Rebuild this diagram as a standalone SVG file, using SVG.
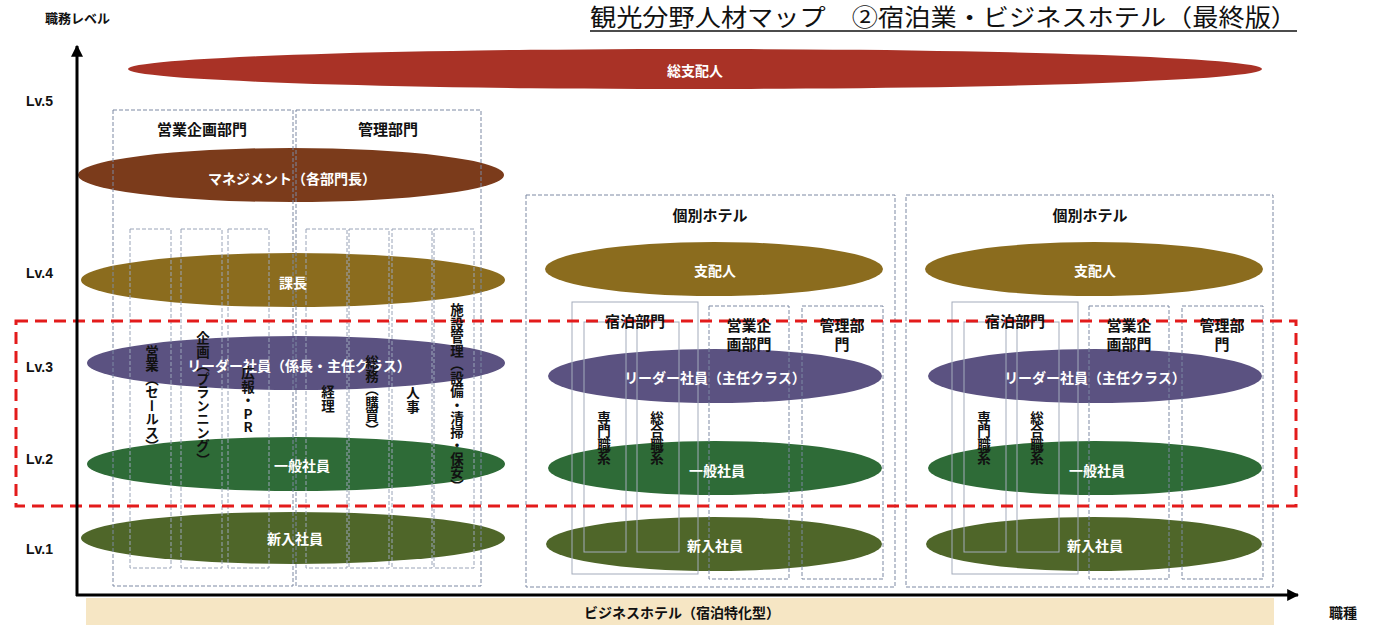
<svg xmlns="http://www.w3.org/2000/svg" width="1378" height="625" viewBox="0 0 1378 625">
<defs>
<style>
.jp{font-family:"Noto Sans CJK JP","Noto Sans CJK SC",sans-serif;font-weight:bold;}
.w{fill:#ffffff;font-size:14px;text-anchor:middle;dominant-baseline:central;}
.b{fill:#111111;text-anchor:middle;dominant-baseline:central;}
.h{font-size:15px;}
.v{fill:#111111;font-size:13.5px;writing-mode:vertical-rl;text-anchor:middle;dominant-baseline:central;}
.lv{font-family:"Liberation Sans",Arial,sans-serif;font-weight:bold;font-size:14px;fill:#111;dominant-baseline:central;}
.box{fill:none;stroke:#7d89a3;stroke-width:1;stroke-dasharray:4 2;}
.col{fill:none;stroke:#9aa4b8;stroke-width:1;stroke-dasharray:4 2;}
.sol{fill:none;stroke:#a3abbb;stroke-width:1;}
.gm{fill:#a93226;}
.mg{fill:#7b3b1b;}
.kc{fill:#8b6c1e;}
.ld{fill:#5b5281;}
.ip{fill:#2e6b37;}
.sn{fill:#4f6629;}
</style>
<marker id="ah" viewBox="0 0 10 10" refX="9" refY="5" markerWidth="4" markerHeight="4" orient="auto-start-reverse" markerUnits="strokeWidth">
<path d="M0,0 L10,5 L0,10 z" fill="#000"/>
</marker>
</defs>
<rect width="1378" height="625" fill="#ffffff"/>

<!-- title -->
<g id="title">
<text x="590" y="26" font-family="'Noto Sans CJK JP',sans-serif" font-size="24" fill="#111" textLength="707" lengthAdjust="spacingAndGlyphs">観光分野人材マップ　②宿泊業・ビジネスホテル（最終版）</text>
<line x1="590" y1="31" x2="1297" y2="31" stroke="#111" stroke-width="1.5"/>
</g>
<text class="jp" x="45" y="17" font-size="13" fill="#111" dominant-baseline="central">職務レベル</text>

<!-- band -->
<g id="band">
<rect x="86" y="598" width="1188" height="27" fill="#f6e6c4"/>
<text class="jp b" x="682" y="612" font-size="14">ビジネスホテル（宿泊特化型）</text>
</g>
<text class="jp b" x="1343" y="612" font-size="14">職種</text>

<!-- level labels -->
<g id="levels">
<text class="lv" x="26" y="101">Lv.5</text>
<text class="lv" x="26" y="273">Lv.4</text>
<text class="lv" x="26" y="367">Lv.3</text>
<text class="lv" x="26" y="459">Lv.2</text>
<text class="lv" x="26" y="549">Lv.1</text>
</g>

<!-- ellipses -->
<g id="gm-node"><ellipse class="gm" cx="695" cy="69" rx="567" ry="20"/><text class="jp w" x="695" y="70" font-size="15">総支配人</text></g>

<g id="left-ellipses">
<ellipse class="mg" cx="291" cy="175" rx="213" ry="27"/>
<ellipse class="kc" cx="293" cy="280" rx="212" ry="27"/>
<ellipse class="ld" cx="296" cy="363" rx="209" ry="27"/>
<ellipse class="ip" cx="296" cy="464" rx="209" ry="27"/>
<ellipse class="sn" cx="293" cy="538" rx="212" ry="26"/>
</g>
<g id="mid-ellipses">
<ellipse class="kc" cx="714" cy="269" rx="169" ry="27"/>
<ellipse class="ld" cx="715" cy="376" rx="167" ry="27"/>
<ellipse class="ip" cx="715" cy="468" rx="167" ry="27"/>
<ellipse class="sn" cx="714" cy="544" rx="168" ry="27"/>
</g>
<g id="right-ellipses">
<ellipse class="kc" cx="1094" cy="269" rx="169" ry="27"/>
<ellipse class="ld" cx="1095" cy="376" rx="167" ry="27"/>
<ellipse class="ip" cx="1095" cy="468" rx="167" ry="27"/>
<ellipse class="sn" cx="1094" cy="544" rx="168" ry="27"/>
</g>

<!-- left boxes -->
<g id="sales-dept">
<rect class="box" x="113" y="110" width="180" height="476"/>
<rect class="col" x="130" y="229" width="41" height="339"/>
<rect class="col" x="181" y="229" width="41" height="339"/>
<rect class="col" x="228" y="229" width="41" height="339"/>
<text class="jp b h" x="202" y="128">営業企画部門</text>
</g>
<g id="admin-dept">
<rect class="box" x="296" y="110" width="185" height="476"/>
<rect class="col" x="306" y="229" width="41" height="339"/>
<rect class="col" x="349" y="229" width="40" height="339"/>
<rect class="col" x="392" y="229" width="40" height="339"/>
<rect class="col" x="434" y="229" width="40" height="339"/>
<text class="jp b h" x="388" y="128">管理部門</text>
</g>

<!-- hotel 1 -->
<g id="hotel1">
<rect class="box" x="526" y="195" width="369" height="392"/>
<text class="jp b h" x="710" y="214">個別ホテル</text>
<rect class="sol" x="572" y="302" width="126" height="272"/>
<rect class="sol" x="584" y="322" width="42" height="230"/>
<rect class="sol" x="637" y="322" width="42" height="230"/>
<rect class="box" x="709" y="306" width="80" height="273"/>
<rect class="box" x="802" y="306" width="81" height="273"/>
</g>
<!-- hotel 2 -->
<g id="hotel2">
<rect class="box" x="906" y="195" width="367" height="392"/>
<text class="jp b h" x="1090" y="214">個別ホテル</text>
<rect class="sol" x="952" y="302" width="126" height="272"/>
<rect class="sol" x="964" y="322" width="42" height="230"/>
<rect class="sol" x="1017" y="322" width="42" height="230"/>
<rect class="box" x="1089" y="306" width="80" height="273"/>
<rect class="box" x="1182" y="306" width="81" height="273"/>
</g>

<!-- red dashed range -->
<rect id="range" x="16" y="321" width="1280" height="185" fill="none" stroke="#e31b1b" stroke-width="3" stroke-dasharray="12 7"/>

<!-- axes -->
<g id="connectors">
<line x1="77" y1="596" x2="77" y2="46" stroke="#000" stroke-width="3" marker-end="url(#ah)"/>
<line x1="76" y1="595" x2="1298" y2="595" stroke="#000" stroke-width="3" marker-end="url(#ah)"/>
</g>

<!-- labels left -->
<g id="left-labels">
<text class="jp w" x="292" y="178">マネジメント（各部門長）</text>
<text class="jp w" x="293" y="282">課長</text>
<text class="jp w" x="299" y="365">リーダー社員（係長・主任クラス）</text>
<text class="jp w" x="302" y="465">一般社員</text>
<text class="jp w" x="295" y="538">新入社員</text>
</g>
<g id="left-vertical">
<text class="jp v" x="152" y="399">営業（セールス）</text>
<text class="jp v" x="203" y="399">企画（プランニング）</text>
<text class="jp v" x="248" y="400" style="text-orientation:upright">広報・PR</text>
<text class="jp v" x="328" y="399">経理</text>
<text class="jp v" x="372" y="396">総務（購買）</text>
<text class="jp v" x="413" y="400">人事</text>
<text class="jp v" x="457" y="398">施設管理（設備・清掃・保安）</text>
</g>

<g id="hotel1-labels">
<text class="jp w" x="715" y="270">支配人</text>
<text class="jp b h" x="635" y="320">宿泊部門</text>
<text class="jp b h" x="749" y="324">営業企</text>
<text class="jp b h" x="749" y="343">画部門</text>
<text class="jp b h" x="842" y="324">管理部</text>
<text class="jp b h" x="842" y="343">門</text>
<text class="jp w" x="715" y="377">リーダー社員（主任クラス）</text>
<text class="jp v" x="604" y="438">専門職系</text>
<text class="jp v" x="657" y="438">総合職系</text>
<text class="jp w" x="717" y="470">一般社員</text>
<text class="jp w" x="715" y="545">新入社員</text>
</g>
<g id="hotel2-labels">
<text class="jp w" x="1095" y="270">支配人</text>
<text class="jp b h" x="1015" y="320">宿泊部門</text>
<text class="jp b h" x="1129" y="324">営業企</text>
<text class="jp b h" x="1129" y="343">画部門</text>
<text class="jp b h" x="1222" y="324">管理部</text>
<text class="jp b h" x="1222" y="343">門</text>
<text class="jp w" x="1095" y="377">リーダー社員（主任クラス）</text>
<text class="jp v" x="984" y="438">専門職系</text>
<text class="jp v" x="1037" y="438">総合職系</text>
<text class="jp w" x="1097" y="470">一般社員</text>
<text class="jp w" x="1095" y="545">新入社員</text>
</g>
</svg>
